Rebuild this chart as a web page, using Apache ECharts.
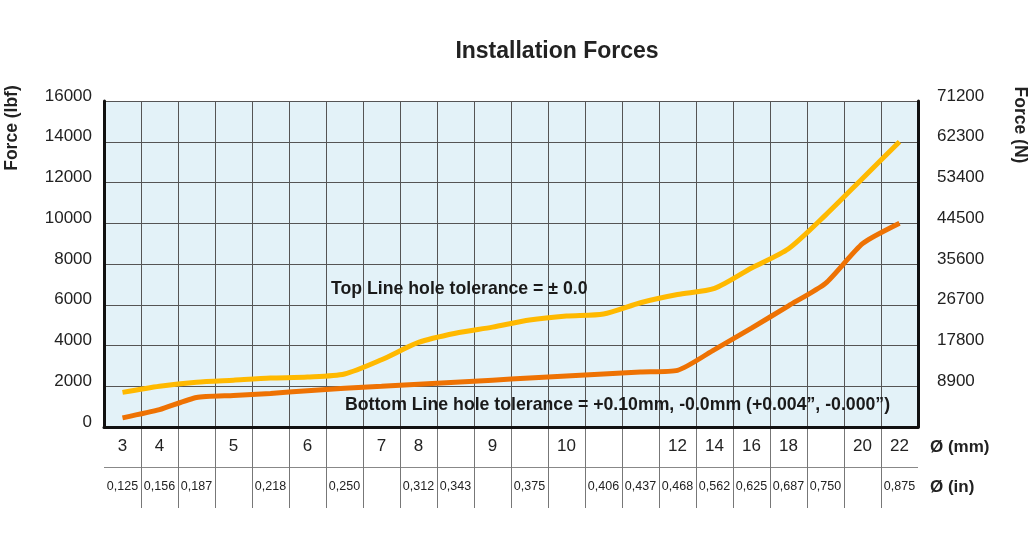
<!DOCTYPE html>
<html>
<head>
<meta charset="utf-8">
<script src="https://cdn.jsdelivr.net/npm/echarts@6/dist/echarts.min.js"></script>
<style>html,body{margin:0;padding:0;background:#fff;}#c{width:1031px;height:550px;}</style>
</head>
<body>
<div id="c"></div>
<script>
// ---- data ----
const mmLabels = ['3','4','','5','','6','','7','8','','9','','10','','','12','14','16','18','','20','22'];
const inLabels = ['0,125','0,156','0,187','','0,218','','0,250','','0,312','0,343','','0,375','','0,406','0,437','0,468','0,562','0,625','0,687','0,750','','0,875'];
const topLine = [1700,2000,2200,2300,2400,2450,2600,3300,4150,4600,4900,5250,5450,5550,6100,6500,6800,7800,8750,10400,12200,14000];
const bottomLine = [450,850,1450,1550,1650,1780,1900,2000,2100,2200,2300,2400,2500,2600,2700,2780,3800,4850,5950,7050,9000,10000];
const lbfTicks = {min: 0, max: 16000, interval: 2000};
const nTicks = {min: 0, max: 71200, interval: 8900};

const cats = mmLabels.map((_, i) => String(i));
const FONT = "'Liberation Sans', Arial, sans-serif";

const chart = echarts.init(document.getElementById('c'), null, {renderer: 'canvas'});
chart.setOption({
  animation: false,
  backgroundColor: '#ffffff',
  title: {
    text: 'Installation Forces',
    left: 552, top: 35, textAlign: 'center',
    textStyle: {fontFamily: FONT, fontSize: 23, fontWeight: 'bold', color: '#222'}
  },
  grid: [
    {left: 104, right: 113, top: 101, height: 326, show: true, backgroundColor: '#E3F2F8', borderWidth: 0},
    {left: 104, right: 113, top: 427, height: 81, show: false}
  ],
  xAxis: [
    {
      type: 'category', gridIndex: 0, data: cats, boundaryGap: true,
      axisLine: {show: true, lineStyle: {color: '#111', width: 3}},
      axisTick: {show: false}, axisLabel: {show: false},
      splitLine: {show: true, interval: 0, lineStyle: {color: '#555', width: 1}}
    },
    {
      type: 'category', gridIndex: 1, data: cats, boundaryGap: true, position: 'top',
      axisLine: {show: false}, axisTick: {show: false},
      axisLabel: {show: true, inside: true, interval: 0, margin: 11,
        formatter: (v, i) => mmLabels[i],
        fontFamily: FONT, fontSize: 17, color: '#222'},
      splitLine: {show: true, interval: 0, showMinLine: false, showMaxLine: false,
        lineStyle: {color: '#777', width: 1}}
    },
    {
      type: 'category', gridIndex: 1, data: cats, boundaryGap: true, position: 'bottom',
      axisLine: {show: false}, axisTick: {show: false},
      axisLabel: {show: true, inside: true, interval: 0, margin: 15,
        formatter: (v, i) => inLabels[i],
        fontFamily: FONT, fontSize: 12.5, color: '#222'},
      splitLine: {show: false}
    }
  ],
  yAxis: [
    {
      type: 'value', gridIndex: 0, position: 'left',
      min: lbfTicks.min, max: lbfTicks.max, interval: lbfTicks.interval,
      axisLine: {show: true, lineStyle: {color: '#111', width: 3}},
      axisTick: {show: false},
      axisLabel: {margin: 12, fontFamily: FONT, fontSize: 17, color: '#222',
        verticalAlign: 'bottom', lineHeight: 10,
        formatter: v => String(v)},
      splitLine: {show: true, lineStyle: {color: '#555', width: 1}}
    },
    {
      type: 'value', gridIndex: 0, position: 'right',
      min: nTicks.min, max: nTicks.max, interval: nTicks.interval,
      axisLine: {show: true, lineStyle: {color: '#111', width: 3}},
      axisTick: {show: false},
      axisLabel: {margin: 19, fontFamily: FONT, fontSize: 17, color: '#222',
        verticalAlign: 'bottom', lineHeight: 10,
        formatter: v => v === 0 ? '' : String(v)},
      splitLine: {show: false}
    },
    {
      type: 'value', gridIndex: 1, min: 0, max: 2, interval: 1,
      axisLine: {show: false}, axisTick: {show: false}, axisLabel: {show: false},
      splitLine: {show: true, showMinLine: false, showMaxLine: false, lineStyle: {color: '#888', width: 1}}
    }
  ],
  series: [
    {
      name: 'Top Line', type: 'line', xAxisIndex: 0, yAxisIndex: 0,
      data: topLine, smooth: 0.25, symbol: 'none',
      lineStyle: {color: '#FFB900', width: 5}
    },
    {
      name: 'Bottom Line', type: 'line', xAxisIndex: 0, yAxisIndex: 0,
      data: bottomLine, smooth: 0.2, symbol: 'none',
      lineStyle: {color: '#EE7203', width: 5}
    }
  ],
  graphic: [
    {type: 'text', left: 331, top: 280, z: 100,
      style: {text: 'Top Line hole tolerance = ± 0.0', font: "bold 17.7px 'Liberation Sans', Arial, sans-serif", fill: '#1a1a1a'}},
    {type: 'text', left: 345, top: 396, z: 100,
      style: {text: 'Bottom Line hole tolerance = +0.10mm, -0.0mm (+0.004”, -0.000”)', font: "bold 17.7px 'Liberation Sans', Arial, sans-serif", fill: '#1a1a1a'}},
    {type: 'text', x: 12, y: 128, rotation: Math.PI / 2, z: 100,
      style: {text: 'Force (lbf)', font: "bold 17.5px 'Liberation Sans', Arial, sans-serif", fill: '#222', align: 'center', verticalAlign: 'middle'}},
    {type: 'text', x: 1020, y: 125, rotation: -Math.PI / 2, z: 100,
      style: {text: 'Force (N)', font: "bold 17.5px 'Liberation Sans', Arial, sans-serif", fill: '#222', align: 'center', verticalAlign: 'middle'}},
    {type: 'text', x: 930, y: 447, z: 100,
      style: {text: 'Ø (mm)', font: "bold 17px 'Liberation Sans', Arial, sans-serif", fill: '#222', align: 'left', verticalAlign: 'middle'}},
    {type: 'text', x: 930, y: 487, z: 100,
      style: {text: 'Ø (in)', font: "bold 17px 'Liberation Sans', Arial, sans-serif", fill: '#222', align: 'left', verticalAlign: 'middle'}}
  ]
});
</script>
</body>
</html>
